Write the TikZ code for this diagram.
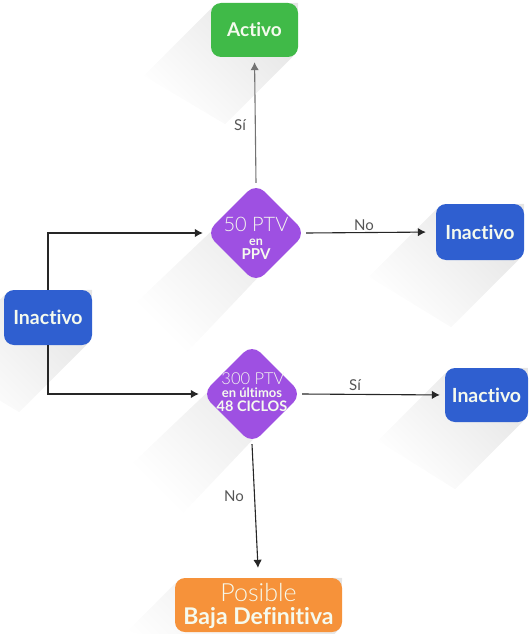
\documentclass[tikz,border=0pt]{standalone}
\usepackage{fontspec}
\setmainfont{Lato}[Ligatures={NoCommon}]
\newfontfamily\lightfont{Lato Light}[Ligatures={NoCommon}]
\usetikzlibrary{shapes.geometric,arrows.meta,calc}
\pgfdeclarelayer{bg}
\pgfsetlayers{bg,main}
\definecolor{cgreen}{RGB}{64,186,72}
\definecolor{cblue}{RGB}{47,95,208}
\definecolor{cpurple}{RGB}{158,80,226}
\definecolor{corange}{RGB}{246,146,58}
\definecolor{ctext}{RGB}{245,250,238}
\definecolor{clabel}{RGB}{85,85,85}
\newcommand\boxshadow[2]{%
  \begin{pgfonlayer}{bg}
  \shade[top color=black!10, bottom color=white, shading angle=-45]
    ($(#1.north west)+(3,3)$) -- ++(-#2,#2) -- ($(#1.south east)+(-#2,#2)+(-3,-3)$)
    -- ($(#1.south east)+(-3,-3)$) -- (#1.north east) -- cycle;
  \end{pgfonlayer}}
\newcommand\diashadow[2]{%
  \begin{pgfonlayer}{bg}
  \shade[top color=black!10, bottom color=white, shading angle=-45]
    ($(#1.north)+(0,6)$) -- ($(#1.east)+(-6,0)$) -- ($(#1.south)+(-#2,#2)$)
    -- ($(#1.west)+(-#2,#2)$) -- cycle;
  \end{pgfonlayer}}
\tikzset{
  box/.style={rectangle, rounded corners=10pt, inner sep=0pt, text=ctext},
  dia/.style={diamond, rounded corners=12pt, inner sep=0pt, fill=cpurple,
    minimum width=100pt, minimum height=100pt},
  boxtxt/.style={text=ctext, font=\bfseries\fontsize{19.5}{22}\selectfont},
  dtxt/.style={text=ctext, anchor=base, inner sep=0pt},
  conn/.style={draw=black!85, line width=1.1pt, -{Latex[length=8pt,width=8.5pt]}},
  lbl/.style={text=clabel, font=\fontsize{15}{16}\selectfont, inner sep=0pt}
}
\begin{document}
\begin{tikzpicture}[x=1pt,y=-1pt]
\useasboundingbox (0,0) rectangle (529,634);

% boxes
\node[box, fill=cgreen, minimum width=87pt, minimum height=54pt,
  font=\bfseries\fontsize{19}{22}\selectfont] (act) at (254.5,30) {Activo};
\node[box, fill=cblue, minimum width=88pt, minimum height=56pt, boxtxt] (inr1) at (480,232) {Inactivo};
\node[box, fill=cblue, minimum width=88pt, minimum height=55pt, boxtxt] (inl) at (48,317.5) {Inactivo};
\node[box, fill=cblue, minimum width=83pt, minimum height=54pt, boxtxt] (inr2) at (486.5,395) {Inactivo};
\node[box, fill=corange, minimum width=167pt, minimum height=54pt] (baja) at (258.5,605) {};
\node[dtxt, font=\lightfont\fontsize{25}{26}\selectfont] (bajaa) at (258.5,601) {Posible};
\node[dtxt, font=\bfseries\fontsize{23}{26}\selectfont] (bajab) at (258.5,624) {Baja Definitiva};

% diamonds
\node[dia] (d1) at (256,233) {};
\node[dtxt, font=\lightfont\fontsize{20}{22}\selectfont] (d1a) at (256,231.5) {50 PTV};
\node[dtxt, font=\bfseries\fontsize{12.5}{14}\selectfont] (d1b) at (256,245) {en};
\node[dtxt, font=\bfseries\fontsize{15}{16}\selectfont] (d1c) at (256,259.5) {PPV};

\node[dia] (d2) at (252,394) {};
\node[dtxt, font=\lightfont\fontsize{16.5}{18}\selectfont] (d2a) at (253,384.5) {300 PTV};
\node[dtxt, font=\bfseries\fontsize{13}{14}\selectfont] (d2b) at (252,397.5) {en últimos};
\node[dtxt, font=\bfseries\fontsize{14.5}{16}\selectfont] (d2c) at (252,411.5) {48 CICLOS};

% shadows
\boxshadow{act}{70}
\boxshadow{inr1}{70}
\boxshadow{inl}{70}
\boxshadow{inr2}{70}
\boxshadow{baja}{50}
\diashadow{d1}{70}
\diashadow{d2}{70}

% connectors
\draw[conn, draw=black!55, shorten >=5pt] (d1.north) -- (act.south);
\draw[conn, shorten >=10pt] (d1.east) -- (inr1.west);
\draw[conn, shorten >=5pt] (d2.east) -- (inr2.west);
\draw[conn, shorten >=3pt] (inl.north) |- (d1.west);
\draw[conn, shorten >=3pt] (inl.south) |- (d2.west);
\draw[conn, shorten >=10pt] (d2.south) -- (baja.north);

% labels
\node[lbl] (l1) at (240,125) {Sí};
\node[lbl] (l2) at (364,225) {No};
\node[lbl] (l3) at (355,385) {Sí};
\node[lbl] (l4) at (234,496) {No};
\end{tikzpicture}
\end{document}
